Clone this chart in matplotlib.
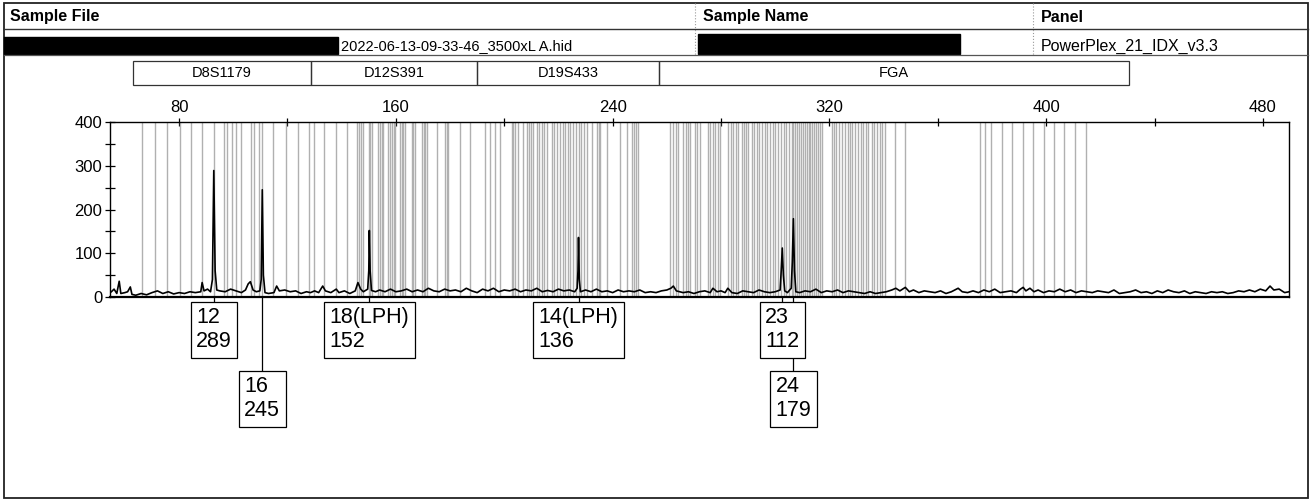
import matplotlib
matplotlib.use("Agg")
import matplotlib.pyplot as plt
import matplotlib.transforms as mtransforms
from matplotlib.patches import Rectangle

plt.rcParams['font.family'] = ['Liberation Sans', 'DejaVu Sans']

# header
sample_file = "2022-06-13-09-33-46_3500xL A.hid"
panel_name = "PowerPlex_21_IDX_v3.3"

# marker ranges (bp)
markers = ["D8S1179", "D12S391", "D19S433", "FGA"]
marker_start = [63.0, 128.7, 190.0, 257.0]
marker_end = [128.7, 190.0, 257.0, 430.6]

# ladder bins (bp)
d8_bins = [66.2, 71.1, 75.7, 80.4, 84.4, 88.6, 92.8, 96.4, 97.6, 99.4, 100.9, 102.9,
           106.4, 107.7, 109.5, 110.5, 114.8, 119.5, 123.7, 128.0]
d12_bins = [129.6, 133.6, 138.0, 142.1, 145.6, 146.4, 147.2, 148.0, 149.9, 150.5, 151.1,
            153.5, 154.1, 154.8, 155.4, 157.2, 157.9, 158.6, 159.2, 159.7, 161.5, 162.2,
            162.8, 163.4, 165.9, 166.5, 167.1, 169.6, 170.2, 170.8, 171.4, 175.1, 178.2,
            178.8, 179.4, 183.7, 187.4]
d19_bins = [192.9, 194.8, 196.6, 198.5, 202.8, 203.4, 204.0, 205.2, 207.0, 208.3, 209.1,
            209.9, 210.7, 212.0, 212.9, 213.8, 214.8, 215.7, 217.5, 218.4, 219.4, 220.6,
            221.5, 222.4, 223.4, 224.3, 225.5, 226.5, 227.5, 228.4, 229.4, 230.4, 232.3,
            234.1, 234.8, 235.4, 237.8, 242.7, 245.2, 247.0, 247.8, 248.7, 249.5]
fga_bins = [261.2, 262.2, 263.3, 264.3, 266.1, 266.9, 267.8, 268.6, 270.4, 271.3, 272.3,
            275.3, 276.1, 277.0, 277.8, 278.7, 279.6, 282.7, 283.6, 284.5, 285.5, 286.4,
            287.6, 288.4, 289.2, 290.1, 291.3, 292.2, 293.1, 294.1, 295.0, 296.2, 297.1,
            298.1, 299.0, 299.9, 301.1, 302.1, 303.1, 304.1, 305.1, 306.1, 306.7, 307.4,
            308.1, 308.8, 309.5, 310.2, 310.9, 311.6, 312.3, 313.0, 313.7, 314.4, 315.1,
            315.8, 316.5, 317.2, 320.8, 321.7, 322.6, 323.6, 324.5, 325.8, 326.7, 327.6,
            328.5, 329.4, 330.7, 331.6, 332.5, 333.5, 334.4, 335.6, 336.6, 337.6, 338.5,
            339.5, 340.5, 344.2, 347.9, 375.6, 377.4, 379.6, 383.7, 387.5, 391.6, 395.3,
            399.2, 403.0, 406.6, 410.6, 414.8]

# trace (size bp, RFU)
trace_size = [55, 56, 57, 57.9, 58.5, 60, 61, 62, 62.6, 64, 66, 68, 70, 72, 74, 76, 78, 80,
              82, 84, 86, 88, 88.5, 89.2, 90.5, 91.6, 92.3, 92.8, 93.3, 93.9, 95, 97, 99,
              101, 103, 104.5, 105.5, 106.3, 107.3, 108.5, 109.8, 110.3, 110.7, 111.1,
              111.7, 113, 115, 116, 117, 119, 121, 123, 125, 127, 128.5, 130, 131.5, 133,
              134, 136, 138, 139, 141, 143, 145, 146, 147, 148, 149.6, 150.0, 150.2, 150.5,
              151, 152.5, 154, 156, 158, 160, 162, 164, 166, 168, 170, 172, 174, 176, 178,
              180, 182, 184, 186, 188, 190, 192, 194, 196, 198, 200, 202, 204, 206, 208,
              210, 212, 214, 216, 218, 220, 222, 224, 226, 226.9, 227.2, 227.4, 227.7,
              228.1, 230, 232, 234, 236, 238, 240, 242, 244, 246, 248, 250, 252, 254, 256,
              258, 260, 261.5, 262.4, 263.5, 266, 268, 270, 272, 274, 276, 277, 278.5, 280,
              281.5, 282.5, 284, 286, 288, 290, 292, 294, 296, 298, 300, 301.8, 302.2,
              302.6, 303.0, 303.5, 304.5, 305.9, 306.3, 306.7, 307.1, 307.6, 309, 311, 313,
              315, 317, 319, 321, 323, 325, 327, 329, 331, 333, 335, 337, 339, 341, 343,
              344.5, 346, 348, 349.5, 351, 353, 355, 357, 359, 361, 363, 365, 367.5, 369,
              371, 373, 375, 377, 379, 381, 383, 385, 387, 389, 390.5, 391.5, 392.5, 394,
              395.5, 397, 399, 401, 403, 405, 407, 409, 411, 413, 415, 417, 419, 421, 423,
              425, 427, 429, 431, 433, 435, 437, 439, 441, 443, 445, 447, 449, 451, 453,
              455, 457, 459, 461, 463, 465, 467, 469, 471, 473, 475, 477, 479, 481, 482.6,
              484, 486, 488, 489.5]
trace_rfu = [12, 18, 8, 36, 8, 10, 12, 23, 6, 4, 8, 5, 10, 14, 8, 12, 7, 10,
             8, 12, 10, 12, 33, 14, 18, 12, 40, 289, 60, 16, 14, 12, 18,
             14, 10, 16, 30, 35, 16, 12, 14, 40, 245, 50,
             10, 8, 10, 25, 14, 16, 12, 14, 8, 12, 10, 14, 10, 25,
             14, 10, 18, 10, 14, 8, 14, 33, 18, 12, 18, 60, 152, 60,
             15, 12, 16, 12, 18, 12, 14, 18, 12, 16, 12, 20, 14, 12, 18,
             14, 16, 12, 20, 14, 10, 18, 14, 20, 12, 16, 14, 18, 12, 16,
             14, 20, 12, 15, 12, 18, 14, 16, 12, 20, 60, 136, 40,
             12, 16, 12, 18, 12, 14, 10, 16, 12, 14, 12, 16, 10, 12, 10,
             14, 16, 20, 25, 14, 10, 12, 8, 12, 14, 10, 20, 12, 14,
             10, 20, 10, 8, 14, 12, 10, 16, 12, 10, 12, 16, 60,
             112, 50, 14, 10, 20, 80, 179, 60, 12, 10, 14, 12,
             18, 10, 14, 12, 16, 10, 14, 12, 10, 8, 12, 8, 10, 12, 16,
             20, 14, 22, 12, 16, 10, 14, 12, 10, 14, 8, 12, 20, 12,
             10, 14, 10, 16, 12, 18, 10, 12, 14, 10, 18, 22, 14, 20,
             12, 16, 10, 14, 12, 18, 12, 16, 10, 14, 12, 10, 14, 12, 10,
             16, 8, 10, 12, 16, 10, 12, 8, 14, 10, 16, 12, 10, 14, 8,
             12, 10, 8, 12, 10, 12, 8, 10, 14, 12, 16, 12, 18, 14, 25,
             16, 18, 10, 12]

# called alleles
allele_labels = ["12", "16", "18(LPH)", "14(LPH)", "23", "24"]
allele_size = [92.8, 110.7, 150.2, 227.4, 302.6, 306.7]
allele_rfu = [289, 245, 152, 136, 112, 179]
allele_row = [0, 1, 0, 0, 0, 1]

W, H = 1312, 500
fig = plt.figure(figsize=(W / 100, H / 100), dpi=100)

# header layer in pixel coordinates
hdr = fig.add_axes([0, 0, 1, 1], zorder=0)
hdr.set_xlim(0, W)
hdr.set_ylim(H, 0)
hdr.axis('off')
hdr.add_patch(Rectangle((4, 3), 1304, 495, fill=False, lw=1.3, ec='#222222'))
hdr.plot([4, 1308], [29, 29], color='#333333', lw=1.0)
hdr.plot([4, 1308], [55, 55], color='#555555', lw=0.9)
hdr.plot([695, 695], [3, 55], color='#999999', lw=0.8, ls=':')
hdr.plot([1033, 1033], [3, 55], color='#999999', lw=0.8, ls=':')
hdr.add_patch(Rectangle((4, 37), 334, 17, color='black'))
hdr.add_patch(Rectangle((698, 34), 262, 20, color='black'))
hdr.text(10, 17, "Sample File", fontsize=11.5, fontweight='bold', va='center')
hdr.text(703, 17, "Sample Name", fontsize=11.5, fontweight='bold', va='center')
hdr.text(1041, 17, "Panel", fontsize=11.5, fontweight='bold', va='center')
hdr.text(341, 46, sample_file, fontsize=10.5, va='center')
hdr.text(1041, 46, panel_name, fontsize=11.5, va='center')

ax = fig.add_axes([110 / W, 1 - 297 / H, (1289 - 110) / W, 175 / H], zorder=1)
ax.set_xlim(54.5, 489.6)
ax.set_ylim(0, 400)

ax.vlines(d8_bins + d12_bins + d19_bins + fga_bins, 0, 400, color='#b0b0b0', lw=1.0)
ax.plot(trace_size, trace_rfu, color='black', lw=1.2)

ax.xaxis.tick_top()
ax.set_xticks([80, 160, 240, 320, 400, 480])
ax.set_xticks([120, 200, 280, 360, 440], minor=True)
ax.set_yticks([0, 100, 200, 300, 400])
ax.set_yticks([50, 150, 250, 350], minor=True)
ax.tick_params(which='both', direction='inout', length=7, width=0.9, labelsize=12, pad=2)
ax.tick_params(axis='x', which='both', length=6)
for s in ax.spines.values():
    s.set_linewidth(1.0)
ax.spines['bottom'].set_linewidth(1.6)

# marker boxes above the axis
trans = mtransforms.blended_transform_factory(ax.transData, hdr.transData)
for name, a, b in zip(markers, marker_start, marker_end):
    ax.add_patch(Rectangle((a, 61), b - a, 24, transform=trans, fill=False,
                           lw=0.9, ec='#333333', clip_on=False))
    ax.text((a + b) / 2, 73, name, transform=trans, fontsize=10.5, ha='center',
            va='center', clip_on=False)

# allele call boxes
row_top = [306, 375]
for lab, x, h, r in zip(allele_labels, allele_size, allele_rfu, allele_row):
    if lab == "24":
        ax.plot([x, x], [297, 306], transform=trans, color='black', lw=0.9, clip_on=False)
        ax.plot([x, x], [350, row_top[r]], transform=trans, color='black', lw=0.9, clip_on=False)
    else:
        ax.plot([x, x], [297, row_top[r]], transform=trans, color='black', lw=0.9, clip_on=False)
    ax.text(x, row_top[r] + 1, f"{lab}\n{h}", transform=trans, fontsize=15.5,
            ha='center', va='top', multialignment='left', linespacing=1.2,
            bbox=dict(boxstyle='square,pad=0.25', fc='white', ec='black', lw=0.9),
            clip_on=False)

fig.savefig("out.png", dpi=100)
